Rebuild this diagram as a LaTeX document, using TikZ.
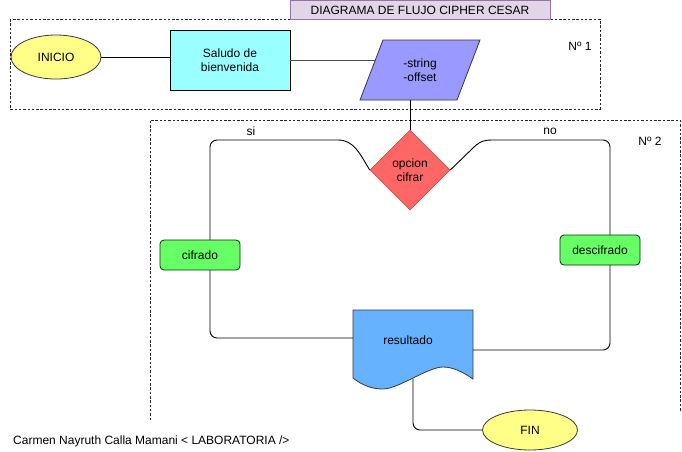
\documentclass[tikz,border=0pt]{standalone}
\usepackage{fontspec}
\setmainfont{Liberation Sans}
\usetikzlibrary{shapes.geometric}
\definecolor{ttlfill}{HTML}{E1D5E7}
\definecolor{ttldraw}{HTML}{9673A6}
\definecolor{yelfill}{HTML}{FFFF88}
\definecolor{darkline}{HTML}{36393D}
\definecolor{cyanfill}{HTML}{99FFFF}
\definecolor{parfill}{HTML}{9999FF}
\definecolor{redfill}{HTML}{FF6666}
\definecolor{greenfill}{HTML}{66FF66}
\definecolor{bluefill}{HTML}{66B2FF}
\tikzset{
  zone/.style={draw=black!85, dash pattern=on 2.5pt off 1.8pt, line width=0.8pt},
  term/.style={ellipse, draw=darkline, fill=yelfill, line width=0.8pt, minimum width=90pt, minimum height=44pt, inner sep=0pt, font=\fontsize{12}{14}\selectfont},
  procbox/.style={draw=black, fill=cyanfill, line width=0.8pt, minimum width=120pt, minimum height=60pt, align=center, font=\fontsize{12}{14}\selectfont},
  decision/.style={diamond, draw=redfill!80!black, fill=redfill, line width=0.6pt, minimum width=80pt, minimum height=80pt, inner sep=0pt, align=center, font=\fontsize{12}{14}\selectfont},
  actbox/.style={draw=black!80!green, fill=greenfill, rounded corners=4pt, line width=0.8pt, minimum width=80pt, minimum height=30pt, inner sep=0pt, font=\fontsize{12}{14}\selectfont},
  conn/.style={draw=black, line width=0.9pt},
  lbl/.style={font=\fontsize{12}{14}\selectfont, inner sep=0pt},
}
\begin{document}
\begin{tikzpicture}[x=1pt,y=-1pt]
\useasboundingbox (0,0) rectangle (682,451);
% zones
\draw[zone] (10,19) rectangle (600,109);
\draw[zone] (150,420) -- (150,120) -- (680,120) -- (680,412);
% title
\node[draw=ttldraw, fill=ttlfill, line width=0.8pt, minimum width=260pt, minimum height=19pt, inner sep=0pt, font=\fontsize{12}{14}\selectfont] (title) at (420,10) {DIAGRAMA DE FLUJO CIPHER CESAR};
\node[lbl] (n1) at (580,46) {Nº 1};
\node[lbl] (n2) at (650,141) {Nº 2};
% nodes
\node[term] (ini) at (56,57) {INICIO};
\node[procbox] (sal) at (230,60) {Saludo de\\bienvenida};
\draw[draw=darkline, fill=parfill, line width=0.8pt] (383,40) -- (480,40) -- (457,100) -- (360,100) -- cycle;
\node[lbl, align=center] (par) at (420,70) {-string\\-offset};
\coordinate (parL) at (375.3,60);
\coordinate (parB) at (410,100);
\node[decision] (dia) at (410,170) {opcion\\cifrar};
\node[actbox] (cif) at (200,255) {cifrado};
\node[actbox] (des) at (600,250) {descifrado};
\coordinate (cifT) at (210,240);
\coordinate (cifB) at (210,270);
\coordinate (desT) at (610,235);
\coordinate (desB) at (610,265);
\draw[draw=darkline, fill=bluefill, line width=0.8pt]
  (353,310) -- (473,310) -- (473,379)
  .. controls (463,372) and (453,367) .. (443,367)
  .. controls (428,367) and (398,389) .. (383,389)
  .. controls (373,389) and (363,386) .. (353,378) -- cycle;
\node[lbl] (res) at (408,340) {resultado};
\coordinate (resL) at (353,338);
\coordinate (resR) at (473,350);
\coordinate (resB) at (413,378.5);
\node[term, minimum width=95pt, minimum height=40pt] (fin) at (530,430) {FIN};
% connectors
\draw[conn] (ini.east) -- (sal.west |- ini.east);
\draw[conn, draw=black!70] (sal.east) -- (parL);
\draw[conn] (parB) -- (dia.north);
\draw[conn] (dia.west) .. controls (360,154) and (354,140) .. (338,140)
  [rounded corners=7pt] -- (210,140) -- (cifT);
\draw[conn] (dia.east) -- (473,148) .. controls (478,143) and (482,140) .. (492,140)
  [rounded corners=7pt] -- (610,140) -- (desT);
\draw[conn, rounded corners=7pt] (cifB) -- (210,338) -- (resL);
\draw[conn, rounded corners=7pt] (desB) -- (610,350) -- (resR);
\draw[conn, rounded corners=7pt] (resB) -- (413,430) -- (fin.west);
\node[lbl] (si) at (251,131) {si};
\node[lbl] (no) at (550,131) {no};
% footer
\node[anchor=west, inner sep=0pt, font=\fontsize{12}{14}\selectfont] (foot) at (13,441) {Carmen Nayruth Calla Mamani < LABORATORIA />};
\end{tikzpicture}
\end{document}
